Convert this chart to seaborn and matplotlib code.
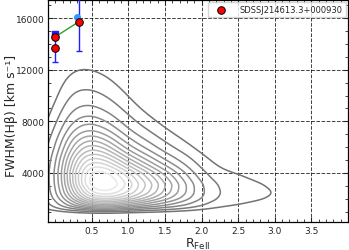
import numpy as np
import pandas as pd
import matplotlib
matplotlib.use("Agg")
import matplotlib.pyplot as plt
import seaborn as sns
from matplotlib.colors import LinearSegmentedColormap
from matplotlib.ticker import MultipleLocator

# ---- density of the quasar sample, read from the contour map ----
# nodes in R_FeII and FWHM(Hbeta); each list is one R_FeII column (low -> high FWHM)
rfe_nodes = [-0.25, 0.0, 0.25, 0.5, 0.75, 1.0, 1.25, 1.5, 1.75, 2.0, 2.25, 2.5, 2.75, 3.0, 3.25]
fwhm_nodes = [800, 1000, 1260, 1580, 2000, 2510, 3160, 3980, 5010, 6310, 7940, 10000, 12600, 15800]

dens_m025 = [0, 1, 2, 3, 3, 4, 4, 4, 3.5, 2.5, 1, 0.3, 0, 0]
dens_000 = [0, 3, 8, 12, 15, 17, 18, 18, 16, 11, 6, 2, 0.5, 0]
dens_025 = [1, 6, 16, 28, 38, 46, 52, 55, 50, 38, 22, 11, 3, 0]
dens_050 = [2, 8, 25, 45, 64, 80, 96, 93, 72, 49, 25, 11, 3, 0]
dens_075 = [2, 8, 25, 45, 65, 82, 92, 85, 60, 38, 19, 8, 2, 0]
dens_100 = [1, 6, 20, 38, 55, 68, 74, 66, 43, 23, 11, 4, 0, 0]
dens_125 = [1, 5, 16, 30, 44, 54, 58, 50, 31, 16, 6, 1, 0, 0]
dens_150 = [1, 4, 12, 23, 33, 40, 43, 36, 20, 9, 3, 0, 0, 0]
dens_175 = [0, 3, 9, 17, 24, 28, 29, 23, 13, 5, 1, 0, 0, 0]
dens_200 = [0, 2, 5.5, 10, 14, 15.5, 15, 10, 6, 2, 0, 0, 0, 0]
dens_225 = [0, 1, 3.5, 6, 8, 8.5, 8, 5.5, 3, 1, 0, 0, 0, 0]
dens_250 = [0, 1, 3, 5, 6.5, 7.5, 7, 5, 2, 0, 0, 0, 0, 0]
dens_275 = [0, 0, 2, 4, 5.5, 6.5, 5.5, 3, 1, 0, 0, 0, 0, 0]
dens_300 = [0, 0, 1, 2.5, 4, 5, 4, 2, 0.5, 0, 0, 0, 0, 0]
dens_325 = [0, 0, 0.5, 1, 2, 2, 1.5, 1, 0, 0, 0, 0, 0, 0]

# ---- the object SDSSJ214613.3+000930 ----
obj_name = "SDSSJ214613.3+000930"
obj_rfe = [0.0, 0.0, 0.32]
obj_fwhm = [14560, 13670, 15720]
link_rfe = [0.0, 0.32]
link_fwhm = [14560, 15720]
err_rfe = [0.0, 0.32]
err_fwhm = [14750, 16100]
err_low = [2150, 2650]
err_high = [60, 2650]
lit_rfe = [0.29]
lit_fwhm = [16100]

xticks = [0.5, 1.0, 1.5, 2.0, 2.5, 3.0, 3.5]
yticks = [4000, 8000, 12000, 16000]

columns = [dens_m025, dens_000, dens_025, dens_050, dens_075, dens_100, dens_125,
           dens_150, dens_175, dens_200, dens_225, dens_250, dens_275, dens_300, dens_325]
records = []
for xv, col in zip(rfe_nodes, columns):
    for yv, w in zip(fwhm_nodes, col):
        if w > 0:
            records.append((xv, yv, w))
df = pd.DataFrame(records, columns=["rfe", "fwhm", "w"])

sns.set_style("ticks")
plt.rcParams["font.family"] = ["DejaVu Sans"]

fig = plt.figure(figsize=(3.49, 2.51), dpi=100)
ax = fig.add_axes([48 / 349, 28 / 251, 300 / 349, 222.5 / 251])

cmap = LinearSegmentedColormap.from_list("greys_soft", ["#737373", "#f3f3f3"])
sns.kdeplot(data=df, x="rfe", y="fwhm", weights="w", log_scale=(False, True),
            bw_method=0.27, levels=16, thresh=0.05, cmap=cmap,
            linewidths=1.1, ax=ax)
ax.set_yscale("linear")

ax.errorbar(err_rfe, err_fwhm, yerr=[err_low, err_high], fmt="none",
            ecolor="#1f1fff", elinewidth=1.0, capsize=2.5, capthick=1.0, zorder=4)
ax.plot(err_rfe[:1], err_fwhm[:1], "s", color="#1f1fff", ms=4, zorder=4)
ax.plot(lit_rfe, lit_fwhm, "o", color="#3399ff", ms=4, zorder=4)
ax.plot(link_rfe, link_fwhm, "-", color="#2ca02c", lw=1.0, zorder=5)
sns.scatterplot(x=obj_rfe, y=obj_fwhm, color="red", edgecolor="black", linewidth=0.7,
                s=30, zorder=6, label=obj_name, ax=ax)

ax.set_xlim(-0.1, 4.0)
ax.set_ylim(200, 17450)
ax.set_xticks(xticks)
ax.set_yticks(yticks)
ax.xaxis.set_minor_locator(MultipleLocator(0.1))
ax.yaxis.set_minor_locator(MultipleLocator(1000))
ax.tick_params(which="both", direction="in", top=True, right=True, labelsize=6.5, pad=3)
ax.tick_params(axis="y", which="both", pad=2.5)
ax.tick_params(which="major", length=3.5, width=0.8)
ax.tick_params(which="minor", length=2, width=0.6)
ax.grid(True, which="major", ls="--", color="k", lw=0.7, alpha=0.75)
for s in ax.spines.values():
    s.set_linewidth(0.9)
    s.set_color("black")

ax.set_xlabel(r"R$_{\rm FeII}$", fontsize=9)
ax.set_ylabel("FWHM(Hβ) [km s\u207b\u00b9]", fontsize=9)
ax.xaxis.set_label_coords(0.5, -0.062)
ax.yaxis.set_label_coords(-0.1, 0.48)

ax.legend(loc="upper right", fontsize=6, borderaxespad=0.25, handletextpad=1.0,
          handlelength=2.4, borderpad=0.4, markerscale=1.0)

fig.savefig("out.png", dpi=100)
